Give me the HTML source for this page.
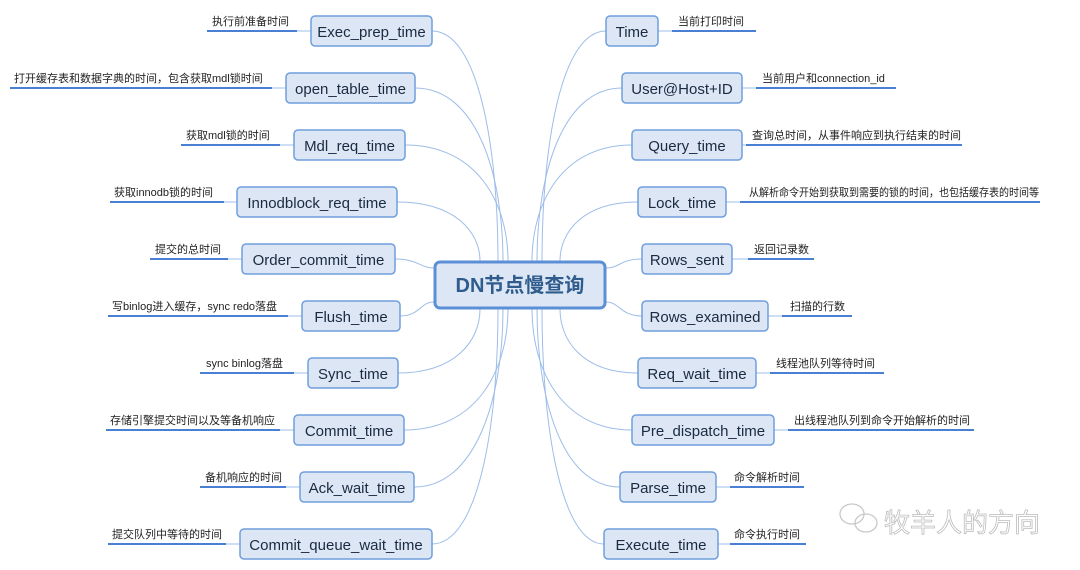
<!DOCTYPE html>
<html><head><meta charset="utf-8"><style>
body{margin:0;background:#fff;}
svg{display:block;}
.n{fill:#dce6f4;stroke:#6f9fdc;stroke-width:1.5;}
.t{font-family:"Liberation Sans","Noto Sans CJK SC",sans-serif;font-size:15px;fill:#1a2a40;text-anchor:middle;}
.l{font-family:"Liberation Sans","Noto Sans CJK SC",sans-serif;font-size:11px;fill:#222;}
.u{stroke:#4a80d4;stroke-width:2;}
.c{fill:none;stroke:#9dbde8;stroke-width:1;}
</style></head><body>
<svg width="1080" height="570" viewBox="0 0 1080 570">
<g class="c">
<path d="M432 31 C478 31 498 146 498 261"/>
<path d="M415 88 C477 88 503 175 503 261"/>
<path d="M405 145 C477 145 508 203 508 261"/>
<path d="M397 202 C455 202 480 232 480 261"/>
<path d="M395 259 C418 259 420 268 434 268"/>
<path d="M400 316 C420 316 420 302 434 302"/>
<path d="M398 373 C455 373 480 341 480 309"/>
<path d="M404 430 C477 430 508 370 508 309"/>
<path d="M414 487 C476 487 503 398 503 309"/>
<path d="M432 544 C478 544 498 427 498 309"/>
<path d="M606 31 C561 31 542 146 542 261"/>
<path d="M622 88 C562 88 537 175 537 261"/>
<path d="M632 145 C562 145 532 203 532 261"/>
<path d="M638 202 C583 202 560 232 560 261"/>
<path d="M642 259 C620 259 620 268 606 268"/>
<path d="M642 316 C620 316 620 302 606 302"/>
<path d="M638 373 C583 373 560 341 560 309"/>
<path d="M632 430 C562 430 532 370 532 309"/>
<path d="M620 487 C562 487 537 398 537 309"/>
<path d="M604 544 C561 544 542 427 542 309"/>
<path d="M311 31H297M286 88H272M294 145H280M237 202H224M242 259H228M302 316H288M308 373H294M294 430H280M300 487H286M240 544H226"/>
<path d="M658 31H672M742 88H756M742 145H746M726 202H740M732 259H748M768 316H782M756 373H770M774 430H788M716 487H730M718 544H730"/>
</g>
<g class="u">
<line x1="207" y1="31" x2="297" y2="31"/>
<line x1="10" y1="88" x2="272" y2="88"/>
<line x1="181" y1="145" x2="280" y2="145"/>
<line x1="110" y1="202" x2="224" y2="202"/>
<line x1="150" y1="259" x2="228" y2="259"/>
<line x1="108" y1="316" x2="288" y2="316"/>
<line x1="200" y1="373" x2="294" y2="373"/>
<line x1="106" y1="430" x2="280" y2="430"/>
<line x1="200" y1="487" x2="286" y2="487"/>
<line x1="108" y1="544" x2="226" y2="544"/>
<line x1="672" y1="31" x2="756" y2="31"/>
<line x1="756" y1="88" x2="896" y2="88"/>
<line x1="746" y1="145" x2="962" y2="145"/>
<line x1="740" y1="202" x2="1040" y2="202"/>
<line x1="748" y1="259" x2="814" y2="259"/>
<line x1="782" y1="316" x2="852" y2="316"/>
<line x1="770" y1="373" x2="884" y2="373"/>
<line x1="788" y1="430" x2="974" y2="430"/>
<line x1="730" y1="487" x2="804" y2="487"/>
<line x1="730" y1="544" x2="806" y2="544"/>
</g>
<g class="l">
<text x="212" y="25">执行前准备时间</text>
<text x="14" y="82">打开缓存表和数据字典的时间，包含获取mdl锁时间</text>
<text x="186" y="139">获取mdl锁的时间</text>
<text x="114" y="196">获取innodb锁的时间</text>
<text x="155" y="253">提交的总时间</text>
<text x="112" y="310">写binlog进入缓存，sync redo落盘</text>
<text x="206" y="367">sync binlog落盘</text>
<text x="110" y="424">存储引擎提交时间以及等备机响应</text>
<text x="205" y="481">备机响应的时间</text>
<text x="112" y="538">提交队列中等待的时间</text>
<text x="678" y="25">当前打印时间</text>
<text x="762" y="82">当前用户和connection_id</text>
<text x="752" y="139">查询总时间，从事件响应到执行结束的时间</text>
<text x="749" y="196" textLength="290" lengthAdjust="spacingAndGlyphs">从解析命令开始到获取到需要的锁的时间，也包括缓存表的时间等</text>
<text x="754" y="253">返回记录数</text>
<text x="790" y="310">扫描的行数</text>
<text x="776" y="367">线程池队列等待时间</text>
<text x="794" y="424">出线程池队列到命令开始解析的时间</text>
<text x="734" y="481">命令解析时间</text>
<text x="734" y="538">命令执行时间</text>
</g>
<g>
<rect class="n" x="311" y="16" width="121" height="30" rx="4"/>
<rect class="n" x="286" y="73" width="129" height="30" rx="4"/>
<rect class="n" x="294" y="130" width="111" height="30" rx="4"/>
<rect class="n" x="237" y="187" width="160" height="30" rx="4"/>
<rect class="n" x="242" y="244" width="153" height="30" rx="4"/>
<rect class="n" x="302" y="301" width="98" height="30" rx="4"/>
<rect class="n" x="308" y="358" width="90" height="30" rx="4"/>
<rect class="n" x="294" y="415" width="110" height="30" rx="4"/>
<rect class="n" x="300" y="472" width="114" height="30" rx="4"/>
<rect class="n" x="240" y="529" width="192" height="30" rx="4"/>
<rect class="n" x="606" y="16" width="52" height="30" rx="4"/>
<rect class="n" x="622" y="73" width="120" height="30" rx="4"/>
<rect class="n" x="632" y="130" width="110" height="30" rx="4"/>
<rect class="n" x="638" y="187" width="88" height="30" rx="4"/>
<rect class="n" x="642" y="244" width="90" height="30" rx="4"/>
<rect class="n" x="642" y="301" width="126" height="30" rx="4"/>
<rect class="n" x="638" y="358" width="118" height="30" rx="4"/>
<rect class="n" x="632" y="415" width="142" height="30" rx="4"/>
<rect class="n" x="620" y="472" width="96" height="30" rx="4"/>
<rect class="n" x="604" y="529" width="114" height="30" rx="4"/>
<rect x="435" y="262" width="170" height="46" rx="5" fill="#dce6f4" stroke="#5b8fd6" stroke-width="3"/>
</g>
<g class="t">
<text x="371.5" y="37">Exec_prep_time</text>
<text x="350.5" y="94">open_table_time</text>
<text x="349.5" y="151">Mdl_req_time</text>
<text x="317" y="208">Innodblock_req_time</text>
<text x="318.5" y="265">Order_commit_time</text>
<text x="351" y="322">Flush_time</text>
<text x="353" y="379">Sync_time</text>
<text x="349" y="436">Commit_time</text>
<text x="357" y="493">Ack_wait_time</text>
<text x="336" y="550">Commit_queue_wait_time</text>
<text x="632" y="37">Time</text>
<text x="682" y="94">User@Host+ID</text>
<text x="687" y="151">Query_time</text>
<text x="682" y="208">Lock_time</text>
<text x="687" y="265">Rows_sent</text>
<text x="705" y="322">Rows_examined</text>
<text x="697" y="379">Req_wait_time</text>
<text x="703" y="436">Pre_dispatch_time</text>
<text x="668" y="493">Parse_time</text>
<text x="661" y="550">Execute_time</text>
<text x="520" y="292" style="font-size:20px;font-weight:bold;fill:#2f5c8c">DN节点慢查询</text>
</g>
<g fill="none" stroke="#c8c8c8" stroke-width="1.3">
<ellipse cx="852" cy="514" rx="12" ry="10"/>
<ellipse cx="866" cy="523" rx="11" ry="9"/>
</g>
<text x="884" y="532" style="font-family:'Liberation Sans','Noto Sans CJK SC',sans-serif;font-size:26px;fill:#fff;stroke:#bdbdbd;stroke-width:0.8">牧羊人的方向</text>
</svg>
</body></html>
